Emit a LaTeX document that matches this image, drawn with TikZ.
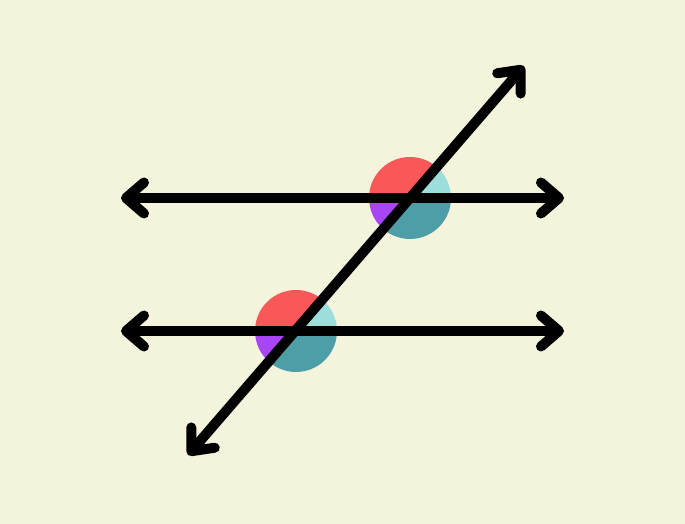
\documentclass[tikz,border=0pt]{standalone}
\usetikzlibrary{arrows.meta}
\definecolor{bgc}{HTML}{F4F4DC}
\definecolor{cred}{HTML}{FA5858}
\definecolor{ccyan}{HTML}{9CDEDC}
\definecolor{cpurple}{HTML}{A845F5}
\definecolor{cteal}{HTML}{4E9EA8}
\tikzset{
  ray/.style={line width=10pt, line cap=round, black,
    {Straight Barb[length=18pt,width=31pt,round]}-{Straight Barb[length=18pt,width=31pt,round]}},
}
\begin{document}
\begin{tikzpicture}[x=1pt,y=1pt]
\fill[bgc] (0,0) rectangle (685,524);
\useasboundingbox (0,0) rectangle (685,524);
\def\ang{49.18}
\def\rad{41}
\foreach \cx/\cy/\nm in {410/326/up, 296/193/lo}{
  \coordinate (\nm) at (\cx,\cy);
  \fill[cred] (\nm) -- ++(\ang:\rad) arc[start angle=\ang, end angle=180, radius=\rad] -- cycle;
  \fill[ccyan] (\nm) -- ++(0:\rad) arc[start angle=0, end angle=\ang, radius=\rad] -- cycle;
  \fill[cpurple] (\nm) -- ++(180:\rad) arc[start angle=180, end angle=180+\ang, radius=\rad] -- cycle;
  \fill[cteal] (\nm) -- ++(180+\ang:\rad) arc[start angle=180+\ang, end angle=360, radius=\rad] -- cycle;
}
\coordinate (h1l) at (121,326);
\coordinate (h1r) at (564,326);
\coordinate (h2l) at (121,193);
\coordinate (h2r) at (564,193);
\coordinate (tb) at (188,69);
\coordinate (tt) at (524,458);
\draw[ray] (h1l) -- (h1r);
\draw[ray] (h2l) -- (h2r);
\draw[ray] (tb) -- (tt);
\end{tikzpicture}
\end{document}
